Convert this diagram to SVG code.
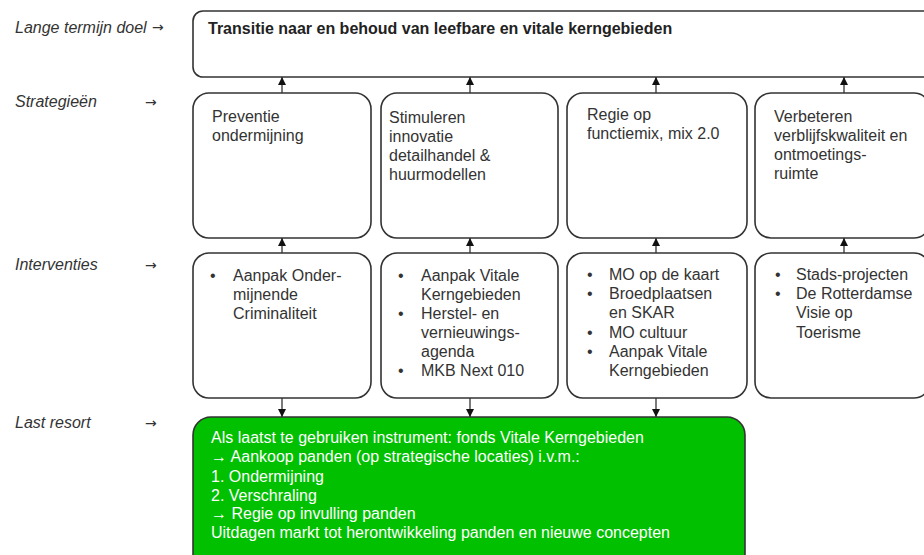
<svg xmlns="http://www.w3.org/2000/svg" width="924" height="555" viewBox="0 0 924 555">
<defs>
<style>
.box{fill:#fff;stroke:#333;stroke-width:1.6}
.green{fill:#00c000;stroke:#333;stroke-width:1.6}
.lbl{font-family:"Liberation Sans",Arial,sans-serif;font-style:italic;font-size:16px;fill:#333}
.arr{font-family:"DejaVu Sans",sans-serif;font-size:14px;fill:#333}
.t{font-family:"Liberation Sans",Arial,sans-serif;font-size:16px;fill:#333}
.tb{font-family:"Liberation Sans",Arial,sans-serif;font-size:16px;font-weight:bold;fill:#222}
.tw{font-family:"Liberation Sans",Arial,sans-serif;font-size:16px;fill:#fff}
.conn line{stroke:#333;stroke-width:1.3}
</style>
<marker id="ah" viewBox="0 0 10 10" refX="10" refY="5" markerWidth="8" markerHeight="8" markerUnits="userSpaceOnUse" orient="auto">
<path d="M0,0 L10,5 L0,10 Z" fill="#111"/>
</marker>
</defs>
<rect width="924" height="555" fill="#fff"/>

<g id="labels">
<text class="lbl" x="15" y="33">Lange termijn doel</text>
<text class="arr" x="152" y="32">→</text>
<text class="lbl" x="15" y="107">Strategieën</text>
<text class="arr" x="145" y="107">→</text>
<text class="lbl" x="15" y="270">Interventies</text>
<text class="arr" x="145" y="270">→</text>
<text class="lbl" x="15" y="428">Last resort</text>
<text class="arr" x="145" y="428">→</text>
</g>

<g id="doel">
<rect class="box" x="193" y="11" width="740" height="66" rx="10"/>
<text class="tb" x="208" y="34">Transitie naar en behoud van leefbare en vitale kerngebieden</text>
</g>

<g id="s1">
<rect class="box" x="193" y="93" width="178" height="145" rx="16"/>
<text class="t" x="212" y="122">Preventie</text>
<text class="t" x="212" y="141">ondermijning</text>
</g>
<g id="s2">
<rect class="box" x="381" y="93" width="177" height="145" rx="16"/>
<text class="t" x="389" y="123">Stimuleren</text>
<text class="t" x="389" y="142">innovatie</text>
<text class="t" x="389" y="161">detailhandel &amp;</text>
<text class="t" x="389" y="180">huurmodellen</text>
</g>
<g id="s3">
<rect class="box" x="567" y="93" width="180" height="145" rx="16"/>
<text class="t" x="587" y="120">Regie op</text>
<text class="t" x="587" y="139">functiemix, mix 2.0</text>
</g>
<g id="s4">
<rect class="box" x="755" y="93" width="175" height="145" rx="16"/>
<text class="t" x="774" y="122">Verbeteren</text>
<text class="t" x="774" y="141">verblijfskwaliteit en</text>
<text class="t" x="774" y="160">ontmoetings-</text>
<text class="t" x="774" y="179">ruimte</text>
</g>

<g id="i1">
<rect class="box" x="193" y="253" width="178" height="145" rx="16"/>
<text class="t" x="210" y="281">•</text>
<text class="t" x="233" y="281">Aanpak Onder-</text>
<text class="t" x="233" y="300">mijnende</text>
<text class="t" x="233" y="319">Criminaliteit</text>
</g>
<g id="i2">
<rect class="box" x="381" y="253" width="177" height="145" rx="16"/>
<text class="t" x="398" y="281">•</text>
<text class="t" x="421" y="281">Aanpak Vitale</text>
<text class="t" x="421" y="300">Kerngebieden</text>
<text class="t" x="398" y="319">•</text>
<text class="t" x="421" y="319">Herstel- en</text>
<text class="t" x="421" y="338">vernieuwings-</text>
<text class="t" x="421" y="357">agenda</text>
<text class="t" x="398" y="376">•</text>
<text class="t" x="421" y="376">MKB Next 010</text>
</g>
<g id="i3">
<rect class="box" x="567" y="253" width="180" height="145" rx="16"/>
<text class="t" x="587" y="280">•</text>
<text class="t" x="609" y="280">MO op de kaart</text>
<text class="t" x="587" y="299">•</text>
<text class="t" x="609" y="299">Broedplaatsen</text>
<text class="t" x="609" y="318">en SKAR</text>
<text class="t" x="587" y="338">•</text>
<text class="t" x="609" y="338">MO cultuur</text>
<text class="t" x="587" y="357">•</text>
<text class="t" x="609" y="357">Aanpak Vitale</text>
<text class="t" x="609" y="376">Kerngebieden</text>
</g>
<g id="i4">
<rect class="box" x="755" y="253" width="175" height="145" rx="16"/>
<text class="t" x="775" y="280">•</text>
<text class="t" x="796" y="280">Stads-projecten</text>
<text class="t" x="775" y="299">•</text>
<text class="t" x="796" y="299">De Rotterdamse</text>
<text class="t" x="796" y="318">Visie op</text>
<text class="t" x="796" y="338">Toerisme</text>
</g>

<g id="last">
<rect class="green" x="193" y="417" width="552" height="155" rx="18"/>
<text class="tw" x="211" y="443">Als laatst te gebruiken instrument: fonds Vitale Kerngebieden</text>
<text class="tw" x="211" y="462">→ Aankoop panden (op strategische locaties) i.v.m.:</text>
<text class="tw" x="211" y="482">1. Ondermijning</text>
<text class="tw" x="211" y="501">2. Verschraling</text>
<text class="tw" x="211" y="519">→  Regie op invulling panden</text>
<text class="tw" x="211" y="538">Uitdagen markt tot herontwikkeling panden en nieuwe concepten</text>
</g>

<g id="connectors" class="conn">
<line x1="282" y1="93" x2="282" y2="77" marker-end="url(#ah)"/>
<line x1="470" y1="93" x2="470" y2="77" marker-end="url(#ah)"/>
<line x1="656" y1="93" x2="656" y2="77" marker-end="url(#ah)"/>
<line x1="844" y1="93" x2="844" y2="77" marker-end="url(#ah)"/>
<line x1="282" y1="253" x2="282" y2="238" marker-end="url(#ah)"/>
<line x1="470" y1="253" x2="470" y2="238" marker-end="url(#ah)"/>
<line x1="656" y1="253" x2="656" y2="238" marker-end="url(#ah)"/>
<line x1="844" y1="253" x2="844" y2="238" marker-end="url(#ah)"/>
<line x1="282" y1="398" x2="282" y2="417" marker-end="url(#ah)"/>
<line x1="470" y1="398" x2="470" y2="417" marker-end="url(#ah)"/>
<line x1="656" y1="398" x2="656" y2="417" marker-end="url(#ah)"/>
</g>
</svg>
